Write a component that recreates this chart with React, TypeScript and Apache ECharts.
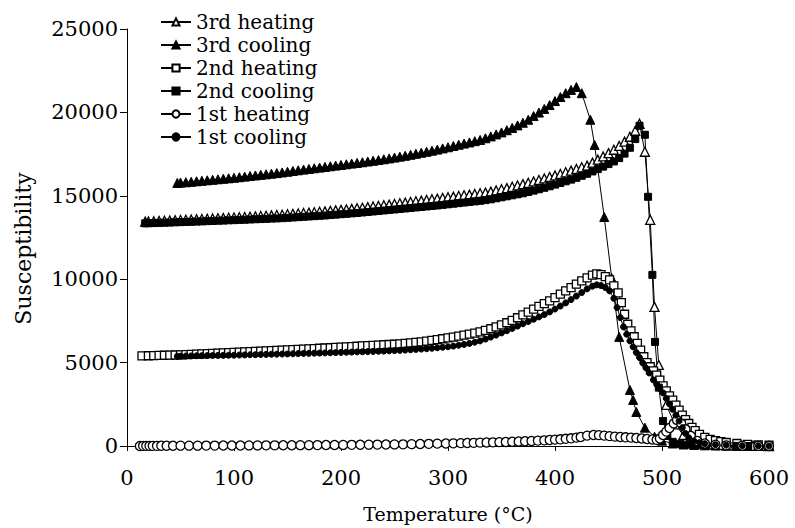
import React, { useEffect, useRef } from "react";
import * as echarts from "echarts";

// Temperature (°C), susceptibility pairs
const heating3: [number, number][] = [
  [17, 13450], [20, 13460], [25, 13470], [30, 13490], [35, 13500], [40, 13520], [45, 13530], [50, 13550],
  [55, 13565], [60, 13580], [65, 13595], [70, 13610], [75, 13625], [80, 13640], [85, 13655], [90, 13670],
  [95, 13685], [100, 13700], [105, 13715], [110, 13730], [115, 13745], [120, 13765], [125, 13785], [130, 13805],
  [135, 13825], [140, 13845], [145, 13865], [150, 13890], [155, 13915], [160, 13940], [165, 13965], [170, 13990],
  [175, 14015], [180, 14040], [185, 14065], [190, 14095], [195, 14125], [200, 14155], [205, 14185], [210, 14215],
  [215, 14250], [220, 14285], [225, 14320], [230, 14355], [235, 14390], [240, 14430], [245, 14470], [250, 14510],
  [255, 14550], [260, 14590], [265, 14630], [270, 14670], [275, 14710], [280, 14750], [285, 14790], [290, 14830],
  [295, 14870], [300, 14910], [305, 14950], [310, 14990], [315, 15030], [320, 15070], [325, 15110], [330, 15150],
  [335, 15190], [340, 15250], [345, 15320], [350, 15390], [355, 15460], [360, 15540], [365, 15620], [370, 15700],
  [375, 15780], [380, 15860], [385, 15950], [390, 16040], [395, 16130], [400, 16220], [405, 16310], [410, 16410],
  [415, 16510], [420, 16610], [425, 16710], [430, 16810], [435, 16990], [440, 17170], [445, 17360], [450, 17560],
  [455, 17760], [460, 17990], [465, 18250], [470, 18540], [475, 18900], [479, 19320], [484, 17640], [489, 13560],
  [493, 8340], [497, 4860], [504, 2460], [512, 1300], [520, 660], [526, 420], [532, 280], [540, 150], [548, 90],
  [555, 60], [562, 40], [570, 30], [578, 20], [585, 10], [592, 5], [600, 0],
];

const cooling3: [number, number][] = [
  [47, 15770], [50, 15790], [55, 15810], [60, 15840], [65, 15870], [70, 15900], [75, 15930], [80, 15960],
  [85, 15990], [90, 16020], [95, 16050], [100, 16080], [105, 16115], [110, 16150], [115, 16185], [120, 16220],
  [125, 16255], [130, 16290], [135, 16325], [140, 16360], [145, 16400], [150, 16440], [155, 16485], [160, 16530],
  [165, 16570], [170, 16610], [175, 16650], [180, 16690], [185, 16730], [190, 16770], [195, 16810], [200, 16850],
  [205, 16890], [210, 16930], [215, 16970], [220, 17010], [225, 17055], [230, 17100], [235, 17145], [240, 17190],
  [245, 17240], [250, 17290], [255, 17345], [260, 17400], [265, 17460], [270, 17520], [275, 17580], [280, 17640],
  [285, 17705], [290, 17770], [295, 17840], [300, 17910], [305, 17985], [310, 18060], [315, 18130], [320, 18200],
  [325, 18275], [330, 18350], [335, 18450], [340, 18560], [345, 18680], [350, 18800], [355, 18930], [360, 19070],
  [365, 19220], [370, 19380], [375, 19560], [380, 19780], [385, 19990], [390, 20210], [395, 20440], [400, 20680],
  [405, 20920], [410, 21150], [415, 21350], [420, 21520], [425, 21150], [433, 19560], [437, 18050], [446, 13730],
  [453, 10070], [460, 6540], [470, 3360], [473, 2760], [476, 2040], [484, 1100], [493, 560], [500, 320],
  [510, 150], [520, 90], [530, 60], [540, 40], [550, 30], [560, 20], [570, 15], [580, 10], [590, 5], [600, 0],
];

const heating2: [number, number][] = [
  [14, 5400], [20, 5410], [25, 5420], [30, 5430], [35, 5440], [40, 5450], [45, 5455], [50, 5460],
  [55, 5475], [60, 5490], [65, 5505], [70, 5520], [75, 5535], [80, 5550], [85, 5565], [90, 5580],
  [95, 5595], [100, 5610], [105, 5625], [110, 5640], [115, 5655], [120, 5670], [125, 5685], [130, 5700],
  [135, 5715], [140, 5730], [145, 5745], [150, 5760], [155, 5775], [160, 5790], [165, 5805], [170, 5820],
  [175, 5840], [180, 5860], [185, 5875], [190, 5890], [195, 5910], [200, 5930], [205, 5945], [210, 5960],
  [215, 5980], [220, 6000], [225, 6015], [230, 6030], [235, 6050], [240, 6070], [245, 6085], [250, 6100],
  [255, 6120], [260, 6150], [265, 6180], [270, 6210], [275, 6245], [280, 6290], [285, 6335], [290, 6380],
  [295, 6430], [300, 6480], [305, 6530], [310, 6590], [315, 6650], [320, 6710], [325, 6770], [330, 6840],
  [335, 6930], [340, 7030], [345, 7140], [350, 7260], [355, 7390], [360, 7530], [365, 7690], [370, 7860],
  [375, 8030], [380, 8200], [385, 8370], [390, 8540], [395, 8700], [400, 8900], [405, 9100], [410, 9300],
  [415, 9500], [420, 9700], [425, 9900], [430, 10080], [435, 10240], [439, 10320], [443, 10280], [447, 10150],
  [451, 9960], [455, 9600], [459, 9180], [462, 8600], [465, 7900], [468, 7300], [471, 6900], [474, 6550],
  [477, 6150], [480, 5750], [483, 5350], [486, 5000], [489, 4750], [492, 4500], [495, 4250], [498, 3950],
  [501, 3600], [504, 3300], [507, 3000], [510, 2750], [513, 2450], [516, 2150], [519, 1850], [522, 1580],
  [525, 1350], [528, 1120], [531, 920], [535, 700], [540, 520], [545, 400], [550, 320], [555, 260],
  [560, 210], [570, 150], [580, 100], [590, 70], [600, 50],
];

const cooling2: [number, number][] = [
  [17, 13350], [20, 13355], [25, 13365], [30, 13375], [35, 13385], [40, 13395], [45, 13410], [50, 13420],
  [55, 13430], [60, 13440], [65, 13455], [70, 13465], [75, 13480], [80, 13490], [85, 13505], [90, 13515],
  [95, 13530], [100, 13540], [105, 13555], [110, 13565], [115, 13580], [120, 13595], [125, 13605], [130, 13620],
  [135, 13635], [140, 13645], [145, 13660], [150, 13680], [155, 13700], [160, 13720], [165, 13740], [170, 13760],
  [175, 13780], [180, 13800], [185, 13820], [190, 13845], [195, 13870], [200, 13895], [205, 13920], [210, 13945],
  [215, 13970], [220, 14000], [225, 14030], [230, 14060], [235, 14090], [240, 14120], [245, 14150], [250, 14180],
  [255, 14210], [260, 14240], [265, 14270], [270, 14300], [275, 14330], [280, 14360], [285, 14390], [290, 14420],
  [295, 14455], [300, 14490], [305, 14525], [310, 14560], [315, 14595], [320, 14630], [325, 14665], [330, 14700],
  [335, 14740], [340, 14790], [345, 14850], [350, 14910], [355, 14970], [360, 15030], [365, 15090], [370, 15150],
  [375, 15230], [380, 15310], [385, 15390], [390, 15480], [395, 15570], [400, 15670], [405, 15770], [410, 15870],
  [415, 15970], [420, 16080], [425, 16200], [430, 16320], [435, 16460], [440, 16600], [445, 16750], [450, 16900],
  [455, 17060], [460, 17260], [465, 17530], [470, 17880], [475, 18400], [479, 19200], [484, 18660], [487, 14940],
  [491, 10260], [493.5, 6240], [497, 3500], [501, 1500], [505, 600], [510, 250], [517, 130], [525, 80],
  [533, 50], [541, 30], [550, 20], [560, 10], [570, 5], [580, 0], [590, 0], [600, 0],
];

const heating1: [number, number][] = [
  [12, 0], [15, 10], [18, 10], [21, 10], [24, 10], [28, 10], [32, 15], [37, 15], [43, 15], [50, 20],
  [58, 20], [66, 20], [74, 25], [82, 25], [90, 30], [98, 30], [106, 30], [114, 35], [122, 35], [130, 40],
  [138, 40], [146, 45], [154, 45], [162, 50], [170, 50], [178, 55], [186, 60], [194, 60], [202, 65], [210, 70],
  [218, 75], [226, 80], [234, 85], [242, 90], [250, 95], [258, 100], [266, 110], [274, 120], [282, 130], [290, 140],
  [298, 150], [305, 160], [312, 170], [318, 180], [324, 190], [330, 200], [336, 210], [342, 220], [348, 230], [354, 240],
  [360, 255], [366, 270], [372, 285], [378, 300], [384, 320], [390, 340], [395, 360], [400, 380], [405, 400], [410, 430],
  [415, 460], [420, 500], [424, 540], [430, 620], [436, 660], [441, 650], [446, 620], [451, 590], [456, 560], [461, 540],
  [466, 520], [471, 500], [476, 480], [481, 450], [486, 420], [491, 390], [495, 370], [498, 450], [501, 660], [504, 860],
  [507, 1080], [511, 1350], [514, 1560], [518, 1350], [522, 1000], [527, 600], [533, 300], [540, 150], [550, 80], [560, 40],
  [575, 20], [590, 10], [600, 0],
];

const cooling1: [number, number][] = [
  [47, 5380], [50, 5385], [55, 5395], [60, 5400], [65, 5410], [70, 5415], [75, 5420], [80, 5425],
  [85, 5430], [90, 5435], [95, 5440], [100, 5445], [105, 5455], [110, 5460], [115, 5470], [120, 5475],
  [125, 5485], [130, 5490], [135, 5500], [140, 5505], [145, 5515], [150, 5520], [155, 5530], [160, 5540],
  [165, 5550], [170, 5555], [175, 5565], [180, 5570], [185, 5580], [190, 5590], [195, 5600], [200, 5610],
  [205, 5620], [210, 5630], [215, 5640], [220, 5650], [225, 5660], [230, 5670], [235, 5680], [240, 5690],
  [245, 5705], [250, 5720], [255, 5735], [260, 5750], [265, 5770], [270, 5790], [275, 5810], [280, 5835],
  [285, 5860], [290, 5890], [295, 5920], [300, 5950], [305, 5990], [310, 6040], [315, 6090], [320, 6150],
  [325, 6220], [330, 6300], [335, 6410], [340, 6530], [345, 6650], [350, 6780], [355, 6910], [360, 7050],
  [365, 7190], [370, 7330], [375, 7460], [380, 7600], [385, 7740], [390, 7880], [395, 8040], [400, 8210],
  [405, 8390], [410, 8580], [415, 8780], [420, 8990], [425, 9200], [430, 9420], [435, 9580], [439, 9660],
  [443, 9620], [447, 9500], [451, 9300], [455, 8850], [458, 8300], [461, 7700], [464, 7140], [467, 6700],
  [470, 6300], [473, 5940], [476, 5600], [479, 5300], [482, 4980], [485, 4680], [488, 4380], [492, 3960],
  [495, 3700], [498, 3440], [501, 3180], [504, 2850], [507, 2520], [510, 2200], [513, 1850], [516, 1500],
  [519, 1100], [522, 750], [525, 500], [530, 300], [535, 200], [540, 140], [550, 80], [560, 50],
  [575, 20], [590, 10], [600, 0],
];

const seriesNames = ["3rd heating", "3rd cooling", "2nd heating", "2nd cooling", "1st heating", "1st cooling"];
const xTicks = [0, 100, 200, 300, 400, 500, 600];
const yTicks = [0, 5000, 10000, 15000, 20000, 25000];

const SERIF = "DejaVu Serif";

export default function App() {
  const ref = useRef<HTMLDivElement>(null);
  useEffect(() => {
    if (!ref.current) return;
    const chart = echarts.init(ref.current, undefined, { renderer: "svg" });
    const mk = (
      name: string,
      data: [number, number][],
      symbol: string,
      size: number,
      filled: boolean
    ) => ({
      name,
      type: "line",
      data,
      symbol,
      symbolSize: size,
      showSymbol: true,
      lineStyle: { color: "#000", width: 1 },
      itemStyle: {
        color: filled ? "#000" : "#fff",
        borderColor: "#000",
        borderWidth: filled ? 1 : 1.3,
      },
      emphasis: { disabled: true },
      z: 2,
    });
    chart.setOption({
      animation: false,
      backgroundColor: "#fff",
      grid: { left: 127, right: 26, top: 29, bottom: 82, containLabel: false },
      legend: {
        orient: "vertical",
        left: 160,
        top: 12,
        padding: 0,
        itemWidth: 30,
        itemHeight: 9,
        itemGap: 3,
        data: seriesNames,
        textStyle: { fontFamily: SERIF, fontSize: 20, color: "#000" },
        selectedMode: false,
      },
      xAxis: {
        type: "value",
        min: xTicks[0],
        max: xTicks[xTicks.length - 1],
        interval: 100,
        name: "Temperature (°C)",
        nameLocation: "middle",
        nameGap: 58,
        nameTextStyle: { fontFamily: SERIF, fontSize: 19, color: "#000" },
        axisLine: { lineStyle: { color: "#000", width: 1 } },
        axisTick: { show: true, inside: false, length: 5, lineStyle: { color: "#000" } },
        axisLabel: {
          fontFamily: SERIF,
          fontSize: 21,
          color: "#000",
          margin: 21,
          formatter: (v: number) => String(v),
        },
        splitLine: { show: false },
      },
      yAxis: {
        type: "value",
        min: yTicks[0],
        max: yTicks[yTicks.length - 1],
        interval: 5000,
        name: "Susceptibility",
        nameLocation: "middle",
        nameGap: 93,
        nameTextStyle: { fontFamily: SERIF, fontSize: 22, color: "#000", padding: [0, 22, 0, 0] },
        axisLine: { show: true, lineStyle: { color: "#000", width: 1 } },
        axisTick: { show: true, inside: false, length: 7, lineStyle: { color: "#000" } },
        axisLabel: {
          fontFamily: SERIF,
          fontSize: 21,
          color: "#000",
          margin: 9,
          formatter: (v: number) => String(v),
        },
        splitLine: { show: false },
      },
      series: [
        mk(seriesNames[0], heating3, "triangle", 9, false),
        mk(seriesNames[1], cooling3, "triangle", 9, true),
        mk(seriesNames[2], heating2, "rect", 8, false),
        mk(seriesNames[3], cooling2, "rect", 7, true),
        mk(seriesNames[4], heating1, "circle", 9, false),
        mk(seriesNames[5], cooling1, "circle", 6, true),
      ],
    });
    return () => chart.dispose();
  }, []);
  return (
    <div
      ref={ref}
      style={{ position: "fixed", left: 0, top: 0, width: 795, height: 528 }}
    />
  );
}
